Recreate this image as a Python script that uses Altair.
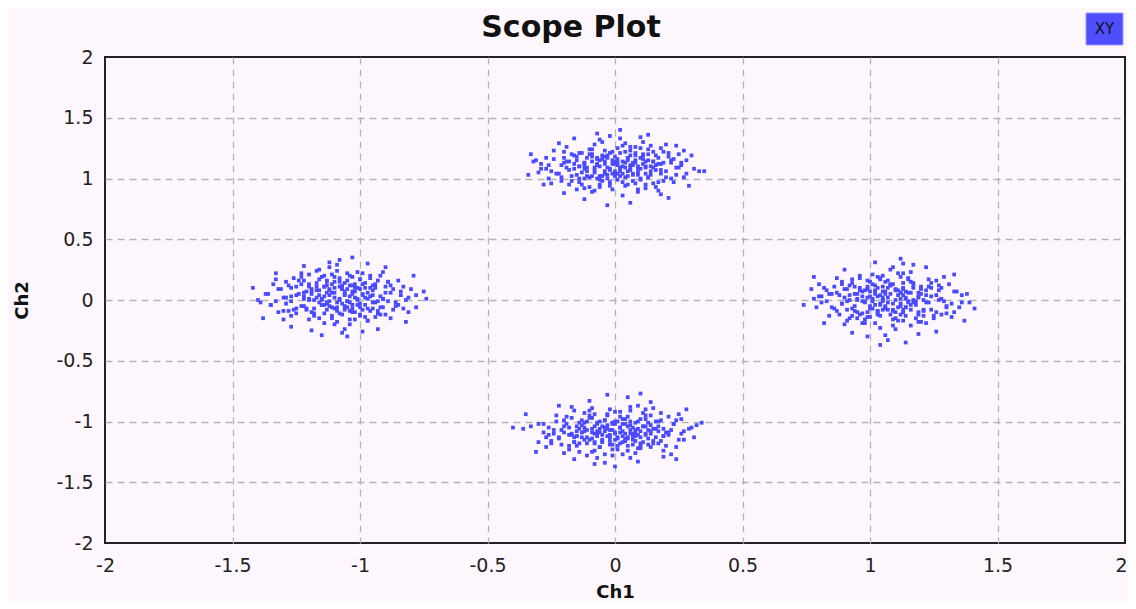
import altair as alt
import pandas as pd

# Cluster near (0, 1.1)
top = [(-0.02,1.08),(0.05,1.15),(-0.11,1.02),(0.13,1.20),(0.01,1.11),(-0.06,0.95),(0.09,1.05),(-0.18,1.14),(0.22,1.00),(0.03,1.27),
(-0.04,1.12),(0.15,1.09),(-0.09,1.18),(0.07,0.98),(-0.25,1.06),(0.00,1.03),(0.11,1.16),(-0.14,1.10),(0.19,1.13),(-0.01,0.91),
(0.04,1.22),(-0.08,1.07),(0.26,1.11),(-0.21,1.01),(0.06,1.09),(-0.03,1.17),(0.12,1.04),(-0.16,1.19),(0.08,1.13),(-0.07,1.00),
(0.02,1.06),(0.17,0.97),(-0.12,1.13),(0.10,1.25),(-0.29,1.12),(0.31,1.08),(-0.05,1.30),(0.14,1.10),(-0.10,0.93),(0.00,1.14),
(0.05,1.02),(-0.19,1.09),(0.21,1.18),(-0.02,1.21),(0.09,0.89),(-0.13,1.05),(0.03,1.10),(-0.06,1.15),(0.16,1.07),(-0.24,1.16),
(0.01,0.99),(0.07,1.12),(-0.15,1.03),(0.12,1.14),(-0.04,1.06),(0.24,1.03),(-0.09,1.24),(0.06,1.19),(-0.01,1.04),(0.18,1.12),
(-0.27,1.08),(0.04,0.94),(-0.11,1.17),(0.13,1.01),(-0.07,1.11),(0.02,1.33),(0.10,1.08),(-0.17,0.98),(0.28,1.15),(-0.03,1.09),
(0.08,1.21),(-0.20,1.13),(0.15,0.96),(-0.05,1.02),(0.00,1.18),(0.11,1.12),(-0.08,0.90),(0.20,1.06),(-0.12,1.08),(0.03,1.04),
(-0.32,1.14),(0.06,1.26),(-0.14,1.21),(0.17,1.17),(-0.02,0.97),(0.09,1.10),(-0.09,1.14),(0.25,1.09),(0.01,1.16),(-0.22,1.04),
(0.14,1.06),(-0.06,1.10),(0.04,1.13),(-0.16,1.12),(0.12,0.92),(0.35,1.06),(-0.04,1.23),(0.07,1.04),(-0.10,1.01),(0.02,1.08),
(0.19,1.22),(-0.13,0.95),(0.05,1.17),(-0.01,1.12),(0.10,1.00),(-0.26,1.11),(0.16,1.11),(-0.07,1.16),(0.03,0.86),(-0.18,1.07),
(0.22,1.13),(-0.03,1.03),(0.08,1.15),(-0.11,1.09),(0.13,1.24),(0.00,1.06),(-0.05,1.19),(0.27,1.01),(-0.15,1.15),(0.06,1.07),
(-0.08,1.05),(0.11,1.19),(-0.20,1.17),(0.02,1.02),(0.15,1.14),(-0.02,1.35),(0.09,1.03),(-0.12,1.11),(0.04,1.09),(-0.30,1.05),
(0.18,1.04),(-0.06,0.99),(0.07,1.11),(-0.09,1.20),(0.01,1.13),(0.23,1.16),(-0.14,1.00),(0.05,0.95),(-0.04,1.14),(0.12,1.09),
(0.15,1.22),(-0.17,1.20),(0.20,1.01),(-0.14,0.97),(0.08,1.26),(-0.06,0.93),(0.22,1.15),(-0.23,1.04),(0.12,0.95),(-0.10,1.24),
(0.03,1.14),(-0.02,1.07),(0.06,1.11),(-0.05,1.16),(0.01,1.04),(-0.08,1.09),(0.10,1.17),(-0.12,1.13),(0.04,1.01),(-0.03,1.19),
(0.18,1.25),(-0.19,1.26),(0.16,0.93),(-0.21,0.98),(0.25,1.20),(-0.27,1.17),(0.28,1.04),(-0.26,1.00),(0.11,1.30),(-0.09,0.89),
(0.00,1.12),(0.02,1.09),(-0.01,1.15),(0.05,1.06),(-0.04,1.04),(0.07,1.13),(-0.07,1.12),(0.09,1.08),(-0.11,1.06),(0.13,1.15),
(0.14,1.03),(-0.15,1.18),(0.17,1.12),(-0.16,1.08),(0.19,0.98),(-0.20,1.22),(0.21,1.21),(-0.18,0.95),(0.06,1.23),(-0.05,0.98),
(0.02,1.21),(-0.03,1.00),(0.10,0.99),(-0.13,1.21),(0.08,1.19),(-0.09,1.02),(0.12,1.10),(-0.14,1.10),(0.16,1.19),(-0.17,1.02),
(0.23,0.97),(-0.24,1.23),(0.26,1.13),(-0.29,1.08),(0.30,1.19),(-0.31,1.15),(0.33,1.06),(-0.34,1.03),(0.20,1.28),(-0.22,1.29),
(0.04,1.29),(-0.06,1.32),(0.09,0.91),(-0.12,0.92),(0.01,1.25),(-0.02,0.94),(0.14,1.27),(-0.15,0.91),(0.17,0.90),(-0.08,1.28),
(0.05,1.17),(-0.04,1.18),(0.07,1.03),(-0.06,1.02),(0.11,1.20),(-0.10,1.20),(0.13,1.01),(-0.12,1.00),(0.03,0.97),(-0.01,1.22),
(0.18,1.07),(-0.19,1.14),(0.24,1.09),(-0.21,1.11),(0.27,1.23),(-0.25,0.96),(0.15,1.14),(-0.07,1.17),(0.00,1.02),(0.08,0.96),
(0.02,1.40),(-0.07,1.37),(0.10,1.34),(-0.12,0.83),(0.06,0.80),(-0.03,0.78),(0.18,0.87),(-0.20,0.88),(0.13,1.36),(-0.16,1.33),
(0.24,1.27),(-0.28,0.95),(0.29,0.94),(-0.33,1.20),(0.21,0.84)]

# Cluster near (0, -1.07)
bottom = [(0.02,-1.05),(-0.07,-1.12),(0.10,-0.98),(-0.15,-1.08),(0.05,-1.20),(-0.01,-1.01),(0.14,-1.10),(-0.10,-0.95),(0.19,-1.06),(-0.22,-1.14),
(0.00,-1.09),(-0.04,-0.99),(0.08,-1.16),(-0.13,-1.03),(0.03,-1.27),(0.23,-1.02),(-0.18,-1.11),(0.06,-1.07),(-0.08,-1.18),(0.12,-1.04),
(-0.02,-0.90),(0.16,-1.13),(-0.26,-1.05),(0.04,-1.10),(-0.06,-1.06),(0.09,-1.22),(-0.11,-1.00),(0.01,-1.14),(0.27,-1.08),(-0.16,-1.17),
(-0.03,-1.03),(0.11,-0.93),(-0.20,-1.09),(0.07,-1.12),(-0.09,-1.25),(0.13,-1.07),(-0.01,-1.19),(0.18,-0.99),(-0.30,-1.02),(0.05,-1.04),
(-0.05,-1.11),(0.02,-0.96),(-0.12,-1.15),(0.15,-1.18),(-0.04,-1.08),(0.21,-1.11),(-0.17,-0.97),(0.08,-1.01),(-0.07,-1.30),(0.00,-1.02),
(0.10,-1.13),(-0.24,-1.10),(0.04,-1.16),(-0.14,-1.06),(0.17,-1.04),(-0.02,-1.13),(0.06,-0.88),(-0.09,-1.09),(0.25,-1.15),(-0.19,-1.02),
(0.03,-1.08),(-0.06,-1.21),(0.12,-1.10),(-0.11,-1.13),(0.01,-1.00),(0.30,-1.05),(-0.27,-1.13),(0.07,-1.19),(-0.03,-0.94),(0.14,-1.03),
(-0.15,-1.12),(0.09,-1.06),(-0.08,-1.04),(0.05,-1.24),(-0.21,-1.07),(0.19,-1.12),(-0.01,-1.07),(0.11,-1.17),(-0.36,-1.06),(0.00,-1.15),
(-0.04,-1.34),(0.16,-1.00),(-0.13,-1.09),(0.03,-1.12),(-0.10,-0.91),(0.22,-1.07),(0.06,-1.03),(-0.18,-1.20),(0.08,-1.09),(-0.05,-1.16),
(0.13,-1.14),(-0.23,-1.00),(0.02,-1.18),(-0.07,-1.02),(0.10,-1.08),(-0.12,-1.05),(0.04,-0.98),(0.26,-1.10),(-0.02,-1.11),(-0.16,-1.13),
(0.15,-1.06),(-0.09,-1.14),(0.07,-1.05),(-0.28,-1.09),(0.01,-1.23),(0.18,-1.16),(-0.06,-1.00),(0.09,-1.11),(-0.14,-1.18),(0.12,-0.95),
(-0.03,-1.06),(0.05,-1.13),(-0.20,-1.04),(0.20,-1.09),(-0.08,-1.10),(0.00,-0.92),(0.14,-1.21),(-0.11,-1.07),(0.03,-1.02),(-0.40,-1.05),
(0.24,-0.99),(-0.05,-1.17),(0.08,-1.12),(-0.17,-1.11),(0.11,-1.04),(-0.01,-1.28),(-0.12,-1.01),(0.06,-1.10),(0.32,-1.03),(-0.04,-1.05),
(0.17,-1.08),(-0.25,-1.16),(0.02,-1.09),(-0.09,-0.97),(0.10,-1.20),(-0.15,-1.04),(0.04,-1.14),(0.13,-1.01),(-0.02,-1.16),(-0.07,-1.08),
(-0.15,-1.20),(0.17,-1.18),(-0.20,-0.99),(0.14,-0.95),(-0.08,-1.24),(0.06,-0.91),(-0.22,-1.13),(0.23,-1.02),(-0.12,-0.93),(0.10,-1.22),
(-0.03,-1.12),(0.02,-1.05),(-0.06,-1.09),(0.05,-1.14),(-0.01,-1.02),(0.08,-1.07),(-0.10,-1.15),(0.12,-1.11),(-0.04,-0.99),(0.03,-1.17),
(-0.18,-1.23),(0.19,-1.24),(-0.16,-0.91),(0.21,-0.96),(-0.25,-1.18),(0.27,-1.15),(-0.28,-1.02),(0.26,-0.98),(-0.11,-1.28),(0.09,-0.87),
(0.00,-1.10),(-0.02,-1.07),(0.01,-1.13),(-0.05,-1.04),(0.04,-1.02),(-0.07,-1.11),(0.07,-1.10),(-0.09,-1.06),(0.11,-1.04),(-0.13,-1.13),
(-0.14,-1.01),(0.15,-1.16),(-0.17,-1.10),(0.16,-1.06),(-0.19,-0.96),(0.20,-1.20),(-0.21,-1.19),(0.18,-0.93),(-0.06,-1.21),(0.05,-0.96),
(-0.02,-1.19),(0.03,-0.98),(-0.10,-0.97),(0.13,-1.19),(-0.08,-1.17),(0.09,-1.00),(-0.12,-1.08),(0.14,-1.08),(-0.16,-1.17),(0.17,-1.00),
(-0.23,-0.95),(0.24,-1.21),(-0.26,-1.11),(0.29,-1.06),(-0.30,-1.17),(0.31,-1.13),(-0.33,-1.04),(0.34,-1.01),(-0.20,-1.26),(0.22,-1.27),
(-0.04,-1.27),(0.06,-1.30),(-0.09,-0.89),(0.12,-0.90),(-0.01,-1.23),(0.02,-0.92),(-0.14,-1.25),(0.15,-0.89),(-0.17,-0.88),(0.08,-1.26),
(-0.05,-1.15),(0.04,-1.16),(-0.07,-1.01),(0.06,-1.00),(-0.11,-1.18),(0.10,-1.18),(-0.13,-0.99),(0.12,-0.98),(-0.03,-0.95),(0.01,-1.20),
(-0.18,-1.05),(0.19,-1.12),(-0.24,-1.07),(0.21,-1.09),(-0.27,-1.21),(0.25,-0.94),(-0.15,-1.12),(0.07,-1.15),(0.00,-1.00),(-0.08,-0.94),
(-0.03,-0.78),(0.05,-0.80),(-0.10,-0.83),(0.14,-0.84),(0.00,-1.37),(-0.08,-1.35),(0.09,-1.33),(-0.16,-1.31),(0.19,-1.29),(-0.22,-0.87),
(0.28,-0.90),(-0.31,-1.25),(0.24,-1.31),(-0.35,-0.94),(0.10,-0.77)]

# Cluster near (-1.08, 0.03)
left = [(-1.06,0.05),(-1.13,-0.02),(-0.98,0.10),(-1.20,0.01),(-1.04,-0.09),(-1.10,0.15),(-0.92,0.03),(-1.17,0.08),(-1.01,-0.04),(-1.25,0.04),
(-1.08,0.00),(-0.95,-0.07),(-1.14,0.11),(-1.03,0.19),(-1.22,-0.05),(-0.88,0.06),(-1.11,-0.13),(-1.07,0.09),(-1.30,0.02),(-0.99,0.13),
(-1.05,-0.01),(-1.16,0.17),(-0.94,-0.02),(-1.09,0.24),(-1.19,-0.10),(-1.02,0.07),(-0.85,-0.04),(-1.12,0.04),(-1.27,0.10),(-1.00,-0.12),
(-1.06,0.14),(-1.15,-0.04),(-0.97,0.01),(-1.23,0.13),(-1.04,0.03),(-0.90,0.11),(-1.10,-0.07),(-1.33,-0.01),(-1.08,0.18),(-0.96,-0.09),
(-1.13,0.06),(-1.02,-0.16),(-1.18,0.00),(-0.93,0.16),(-1.07,-0.03),(-1.11,0.21),(-0.81,0.02),(-1.21,0.07),(-1.03,0.12),(-1.26,-0.08),
(-0.99,0.04),(-1.14,-0.11),(-1.05,0.09),(-0.91,-0.06),(-1.17,0.14),(-1.09,-0.18),(-1.36,0.05),(-1.01,0.01),(-1.12,0.27),(-0.87,0.09),
(-1.06,-0.05),(-1.20,0.11),(-0.98,-0.14),(-1.10,0.02),(-1.24,0.16),(-1.04,-0.20),(-0.95,0.08),(-1.16,-0.02),(-1.08,0.33),(-1.29,-0.03),
(-1.00,0.17),(-1.13,-0.08),(-0.89,-0.01),(-1.07,0.12),(-1.19,0.05),(-1.03,-0.10),(-0.78,0.04),(-1.15,0.19),(-1.11,-0.15),(-0.97,0.06),
(-1.22,0.01),(-1.05,0.22),(-1.09,-0.06),(-0.93,-0.11),(-1.32,0.09),(-1.02,0.10),(-1.14,0.03),(-0.96,0.20),(-1.18,-0.13),(-1.06,-0.24),
(-0.84,0.07),(-1.12,0.08),(-1.27,0.03),(-1.00,-0.03),(-1.08,0.15),(-1.21,-0.07),(-0.94,0.13),(-1.04,-0.02),(-1.16,0.25),(-1.40,0.00),
(-0.99,-0.08),(-1.10,0.10),(-1.25,-0.11),(-1.03,0.05),(-0.91,0.01),(-1.13,0.16),(-1.07,-0.27),(-0.86,-0.05),(-1.19,0.09),(-1.01,0.23),
(-1.15,0.00),(-0.97,-0.17),(-1.11,0.06),(-1.23,0.19),(-1.05,-0.06),(-0.74,0.01),(-1.09,0.29),(-1.30,-0.09),(-0.95,0.04),(-1.14,-0.04),
(-1.02,0.13),(-1.17,0.02),(-0.89,0.15),(-1.06,0.07),(-1.20,-0.16),(-1.00,0.09),(-1.12,-0.01),(-0.92,-0.12),(-1.28,0.12),(-1.08,-0.11),
(-1.04,0.20),(-1.16,0.08),(-0.98,0.02),(-1.35,-0.04),(-1.10,-0.20),(-0.83,0.11),(-1.13,0.12),(-1.03,-0.07),(-1.22,0.06),(-0.96,0.10),
(-0.93,-0.09),(-1.25,-0.07),(-0.88,0.12),(-1.22,0.16),(-1.00,-0.13),(-1.14,0.20),(-0.86,-0.02),(-1.31,0.09),(-0.96,0.18),(-1.18,-0.11),
(-1.05,-0.01),(-1.10,0.06),(-1.02,0.02),(-1.13,-0.03),(-1.07,0.09),(-1.16,0.04),(-0.98,-0.04),(-1.20,0.00),(-1.04,0.12),(-1.11,-0.06),
(-0.90,-0.12),(-1.27,-0.13),(-0.92,0.20),(-1.29,0.15),(-0.83,-0.07),(-1.35,-0.04),(-0.80,0.09),(-1.34,0.13),(-0.97,-0.17),(-1.17,0.24),
(-1.08,0.01),(-1.06,0.04),(-1.09,-0.02),(-1.03,0.07),(-1.12,0.09),(-1.01,0.00),(-1.15,0.01),(-0.99,0.05),(-1.19,0.07),(-0.95,-0.02),
(-0.94,0.10),(-1.23,-0.05),(-0.91,0.01),(-1.24,0.05),(-0.89,0.15),(-1.28,-0.09),(-0.87,-0.08),(-1.26,0.18),(-1.02,-0.10),(-1.13,0.15),
(-1.06,-0.08),(-1.11,0.13),(-0.98,0.14),(-1.21,-0.08),(-1.00,-0.06),(-1.17,0.11),(-0.96,0.03),(-1.22,0.03),(-0.92,-0.06),(-1.25,0.11),
(-0.85,0.16),(-1.32,-0.10),(-0.82,0.00),(-1.37,0.05),(-0.78,-0.06),(-1.39,-0.02),(-0.75,0.07),(-1.42,0.10),(-0.88,-0.15),(-1.30,-0.16),
(-1.04,-0.16),(-1.14,-0.19),(-0.99,0.22),(-1.20,0.21),(-1.07,-0.12),(-1.10,0.19),(-0.94,-0.14),(-1.23,0.22),(-0.91,0.23),(-1.16,-0.15),
(-1.03,-0.04),(-1.12,-0.05),(-1.01,0.10),(-1.14,0.11),(-0.97,-0.07),(-1.18,-0.07),(-0.95,0.12),(-1.20,0.13),(-1.05,0.16),(-1.09,-0.09),
(-0.90,0.06),(-1.27,-0.01),(-0.84,0.04),(-1.29,0.02),(-0.81,-0.10),(-1.33,0.17),(-0.93,-0.01),(-1.15,-0.04),(-1.08,0.11),(-1.00,0.17),
(-1.03,0.35),(-1.12,0.31),(-0.97,0.30),(-1.15,-0.29),(-1.05,-0.30),(-0.99,-0.26),(-1.22,0.28),(-1.27,-0.22),(-0.90,0.27),(-0.93,-0.24),
(-1.33,0.22),(-0.82,-0.18),(-1.38,-0.15),(-0.79,0.20),(-1.19,-0.25)]

# Cluster near (1.07, 0.0)
right = [(1.05,0.02),(1.12,-0.05),(0.98,0.08),(1.18,-0.01),(1.03,-0.11),(1.09,0.13),(0.92,0.00),(1.15,0.06),(1.01,-0.07),(1.24,0.03),
(1.07,-0.02),(0.95,-0.10),(1.13,0.10),(1.04,0.17),(1.21,-0.08),(0.88,0.04),(1.10,-0.15),(1.06,0.07),(1.29,-0.01),(0.99,0.11),
(1.04,-0.04),(1.16,0.15),(0.94,-0.05),(1.11,0.22),(1.19,-0.12),(1.02,0.05),(0.85,-0.06),(1.12,0.01),(1.27,0.08),(1.00,-0.14),
(1.08,0.12),(1.14,-0.06),(0.97,-0.01),(1.23,0.11),(1.05,0.00),(0.90,0.09),(1.09,-0.09),(1.32,-0.03),(1.07,0.16),(0.96,-0.12),
(1.13,0.04),(1.02,-0.19),(1.17,-0.02),(0.93,0.14),(1.06,-0.05),(1.12,0.19),(0.80,0.03),(1.20,0.05),(1.03,0.10),(1.26,-0.10),
(0.99,0.02),(1.14,-0.13),(1.05,0.07),(0.91,-0.08),(1.17,0.12),(1.09,-0.21),(1.36,0.04),(1.01,-0.01),(1.13,0.30),(0.87,0.06),
(1.06,-0.07),(1.20,0.09),(0.98,-0.16),(1.10,0.00),(1.24,0.14),(1.04,-0.23),(0.95,0.05),(1.16,-0.04),(1.08,0.25),(1.30,-0.05),
(1.00,0.15),(1.13,-0.10),(0.89,-0.03),(1.07,0.10),(1.19,0.02),(1.03,-0.12),(0.78,0.01),(1.15,0.17),(1.11,-0.17),(0.97,0.03),
(1.22,-0.02),(1.05,0.20),(1.09,-0.08),(0.93,-0.13),(1.33,0.07),(1.02,0.08),(1.14,0.01),(0.96,0.18),(1.18,-0.15),(1.06,-0.29),
(0.84,0.05),(1.12,0.06),(1.27,0.00),(1.00,-0.05),(1.08,0.13),(1.21,-0.09),(0.94,0.11),(1.04,-0.03),(1.16,0.23),(1.39,-0.02),
(0.99,-0.10),(1.10,0.08),(1.25,-0.13),(1.03,0.03),(0.91,-0.01),(1.13,0.14),(1.07,-0.33),(0.86,-0.07),(1.19,0.06),(1.01,0.21),
(1.15,-0.02),(0.97,-0.19),(1.11,0.04),(1.23,0.17),(1.05,-0.08),(0.81,-0.02),(1.09,0.27),(1.30,-0.11),(0.95,0.01),(1.14,-0.06),
(1.02,0.12),(1.17,0.00),(0.89,0.13),(1.06,0.05),(1.20,-0.18),(1.00,0.07),(1.12,-0.03),(0.92,-0.15),(1.28,0.10),(1.08,-0.12),
(1.04,0.18),(1.16,0.06),(0.98,-0.01),(1.35,-0.06),(1.10,-0.24),(0.83,0.08),(1.13,0.09),(1.03,-0.09),(1.22,0.04),(0.96,0.08),
(0.92,0.12),(1.24,0.10),(0.87,-0.09),(1.21,-0.13),(0.99,0.16),(1.13,-0.17),(0.85,0.05),(1.30,-0.06),(0.95,-0.15),(1.17,0.14),
(1.04,0.04),(1.09,-0.03),(1.01,0.01),(1.12,0.06),(1.06,-0.06),(1.15,-0.01),(0.97,0.07),(1.19,0.03),(1.03,-0.09),(1.10,0.09),
(0.89,0.15),(1.26,0.16),(0.91,-0.17),(1.28,-0.12),(0.82,0.10),(1.34,0.07),(0.79,-0.06),(1.33,-0.10),(0.96,0.20),(1.16,-0.21),
(1.07,0.02),(1.05,-0.01),(1.08,0.05),(1.02,-0.04),(1.11,-0.06),(1.00,0.03),(1.14,0.02),(0.98,-0.02),(1.18,-0.04),(0.94,0.05),
(0.93,-0.07),(1.22,0.08),(0.90,0.02),(1.23,-0.02),(0.88,-0.12),(1.27,0.12),(0.86,0.11),(1.25,-0.15),(1.01,0.13),(1.12,-0.12),
(1.05,0.11),(1.10,-0.10),(0.97,-0.11),(1.20,0.11),(0.99,0.09),(1.16,-0.08),(0.95,0.00),(1.21,0.00),(0.91,0.09),(1.24,-0.08),
(0.84,-0.13),(1.31,0.13),(0.81,0.03),(1.36,-0.02),(0.77,0.09),(1.38,0.05),(0.74,-0.04),(1.41,-0.07),(0.87,0.18),(1.29,0.19),
(1.03,0.19),(1.13,0.22),(0.98,-0.19),(1.19,-0.18),(1.06,0.15),(1.09,-0.16),(0.93,0.17),(1.22,-0.19),(0.90,-0.20),(1.15,0.18),
(1.02,0.07),(1.11,0.08),(1.00,-0.07),(1.13,-0.08),(0.96,0.10),(1.17,0.10),(0.94,-0.09),(1.19,-0.10),(1.04,-0.13),(1.08,0.12),
(0.89,-0.03),(1.26,0.04),(0.83,-0.01),(1.28,0.01),(0.80,0.13),(1.32,-0.14),(0.92,0.04),(1.14,0.07),(1.07,-0.08),(0.99,-0.14),
(1.12,0.34),(1.02,0.31),(1.17,0.29),(1.04,-0.37),(1.14,-0.35),(0.99,-0.30),(1.22,0.27),(1.26,-0.26),(0.90,0.25),(0.93,-0.27),
(1.33,0.21),(0.82,-0.19),(1.37,-0.17),(0.78,0.19),(1.19,-0.28)]

tick_values = [-2, -1.5, -1, -0.5, 0, 0.5, 1, 1.5, 2]
series_name = ["XY"]
title_text = ["Scope Plot"]

rows = []
for pts in (top, bottom, left, right):
    for x, y in pts:
        rows.append({"ch1": x, "ch2": y, "series": series_name[0]})
df = pd.DataFrame(rows)

FONT = "DejaVu Sans"
BG = "#fdf7fd"
BLUE = "#4a4aff"

axis_common = dict(
    values=tick_values,
    labelExpr="datum.value + ''",
    labelFont=FONT,
    labelFontSize=19,
    labelColor="#222222",
    labelFlush=False,
    labelOverlap=False,
    ticks=False,
    domain=False,
    grid=True,
    gridColor="#b4b4b4",
    gridDash=[7, 5],
    gridWidth=1.3,
    gridOpacity={"condition": {"test": "abs(datum.value) == 2", "value": 0}, "value": 1},
    titleFont=FONT,
    titleFontSize=18,
    titleFontWeight="bold",
    titleColor="#111111",
)

points = alt.Chart(df).mark_square(size=14, color=BLUE, opacity=1).encode(
    x=alt.X("ch1:Q", scale=alt.Scale(domain=[-2, 2], nice=False, zero=False),
            axis=alt.Axis(title="Ch1", labelPadding=13, titlePadding=8,
                          labelOffset={"condition": {"test": "datum.value == 2", "value": -4}, "value": 0},
                          **axis_common)),
    y=alt.Y("ch2:Q", scale=alt.Scale(domain=[-2, 2], nice=False, zero=False),
            axis=alt.Axis(title="Ch2", labelPadding=12, titlePadding=24, **axis_common)),
)

legend_df = pd.DataFrame({"label": series_name})
legend_box = alt.Chart(legend_df).mark_rect(color="#4e4eff", stroke="#9a9aff", strokeWidth=1).encode(
    x=alt.value(981), x2=alt.value(1018), y=alt.value(-44), y2=alt.value(-12)
)
legend_text = alt.Chart(legend_df).mark_text(font=FONT, fontSize=15, color="#111111", align="center", baseline="middle").encode(
    x=alt.value(999.5), y=alt.value(-28), text="label:N"
)

title_df = pd.DataFrame({"t": title_text})
title_mark = alt.Chart(title_df).mark_text(font=FONT, fontSize=30, fontWeight="bold", color="#111111",
                                           align="center", baseline="alphabetic").encode(
    x=alt.value(466), y=alt.value(-20), text="t:N"
)

chart = alt.layer(points, legend_box, legend_text, title_mark).properties(
    width=1020,
    height=486,
    background=BG,
    padding={"left": 97, "top": 49, "right": 3, "bottom": 58},
    autosize=alt.AutoSizeParams(type="none"),
).configure_view(
    stroke="#222222", strokeWidth=2, fill=BG
)

chart.save("out.html", embed_options={"renderer": "svg", "actions": False})
